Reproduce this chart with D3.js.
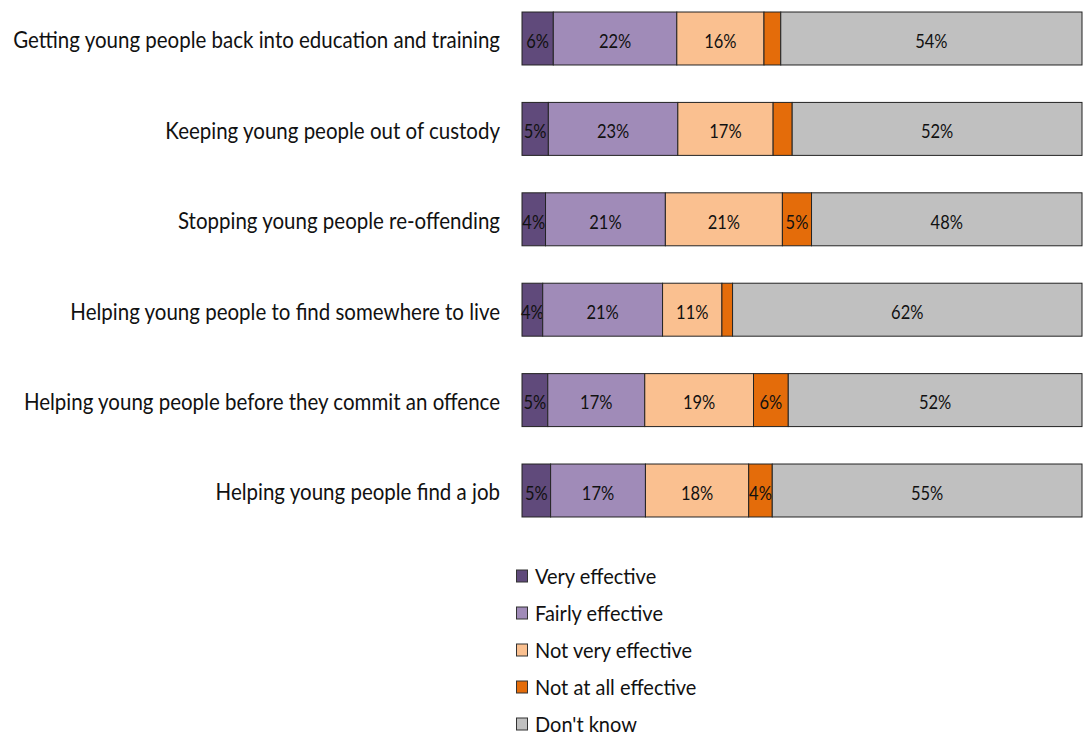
<!DOCTYPE html>
<html>
<head>
<meta charset="utf-8">
<script src="https://cdn.jsdelivr.net/npm/d3@7"></script>
<style>
  html, body { margin: 0; padding: 0; background: #ffffff; }
  svg { display: block; }
</style>
</head>
<body>
<div id="chart"></div>
<script>
// Survey: how effective are services for young people (row shares, %)
const categories = [
  "Getting young people back into education and training",
  "Keeping young people out of custody",
  "Stopping young people re-offending",
  "Helping young people to find somewhere to live",
  "Helping young people before they commit an offence",
  "Helping young people find a job"
];
const seriesNames = ["Very effective", "Fairly effective", "Not very effective", "Not at all effective", "Don't know"];
const veryEffective    = [5.6, 4.7, 4.2, 3.7, 4.6, 5.1];
const fairlyEffective  = [22.1, 23.1, 21.4, 21.4, 17.3, 16.9];
const notVeryEffective = [15.6, 17.0, 20.9, 10.6, 19.4, 18.4];
const notAtAll         = [3.0, 3.4, 5.2, 1.9, 6.2, 4.2];
const dontKnow         = [53.9, 51.7, 48.3, 62.4, 52.4, 55.2];
const seriesColors = ["#604a7b", "#a08bb8", "#fac090", "#e46c0a", "#c0c0c0"];

const width = 1088, height = 736;
const FONT = "Lato, 'Open Sans', sans-serif";
const svg = d3.select("#chart").append("svg")
  .attr("width", width).attr("height", height);

const seriesValues = [veryEffective, fairlyEffective, notVeryEffective, notAtAll, dontKnow];
const rows = categories.map((c, i) => {
  const r = { category: c };
  seriesNames.forEach((s, j) => { r[s] = seriesValues[j][i]; });
  return r;
});

// 100% stacked: each row is expanded to the full width
const stacked = d3.stack().keys(seriesNames).offset(d3.stackOffsetExpand)(rows);

const x = d3.scaleLinear().domain([0, 1]).range([522, 1082]);
const y = d3.scaleBand().domain(categories).range([-6.7, 535.7])
  .paddingInner(0.414).paddingOuter(0.207);
const color = d3.scaleOrdinal().domain(seriesNames).range(seriesColors);
const fmt = d3.format(".0f");

const layers = svg.append("g").selectAll("g")
  .data(stacked).join("g")
  .attr("fill", d => color(d.key));

layers.selectAll("rect")
  .data(d => d.map(p => ({ key: d.key, p })))
  .join("rect")
  .attr("x", d => x(d.p[0]))
  .attr("y", d => y(d.p.data.category))
  .attr("width", d => x(d.p[1]) - x(d.p[0]))
  .attr("height", y.bandwidth())
  .attr("stroke", "#232323")
  .attr("stroke-width", 1);

// Value labels (small slivers are left unlabelled)
layers.selectAll("text")
  .data(d => d.map(p => ({ key: d.key, p, v: p.data[d.key] })).filter(d => Math.round(d.v) >= 4))
  .join("text")
  .attr("transform", d => {
    const cx = (x(d.p[0]) + x(d.p[1])) / 2;
    const by = y(d.p.data.category) + y.bandwidth() / 2 + 9.2;
    return `translate(${cx},${by}) scale(1,1.18)`;
  })
  .attr("text-anchor", "middle")
  .attr("fill", "#111")
  .style("font-family", FONT)
  .style("font-size", "16.5px")
  .text(d => fmt(d.v) + "%");

// Category axis
const yAxis = svg.append("g")
  .attr("transform", `translate(${x(0)},0)`)
  .call(d3.axisLeft(y).tickSize(0).tickPadding(22));
yAxis.select(".domain").remove();
yAxis.selectAll("text")
  .attr("x", null)
  .attr("dy", null)
  .attr("transform", "translate(-22,9.8) scale(1,1.12)")
  .attr("fill", "#111")
  .style("font-family", FONT)
  .style("font-size", "20.5px");

// Legend
const legend = svg.append("g").attr("transform", "translate(516,576)");
const item = legend.selectAll("g").data(seriesNames).join("g")
  .attr("transform", (d, i) => `translate(0,${i * 37})`);
item.append("rect")
  .attr("x", 0.5).attr("y", -6)
  .attr("width", 11).attr("height", 12)
  .attr("fill", d => color(d))
  .attr("stroke", "#333").attr("stroke-width", 1);
item.append("text")
  .attr("transform", "translate(19,7.5) scale(1,1.06)")
  .attr("fill", "#111")
  .style("font-family", FONT)
  .style("font-size", "20px")
  .text(d => d);
</script>
</body>
</html>
